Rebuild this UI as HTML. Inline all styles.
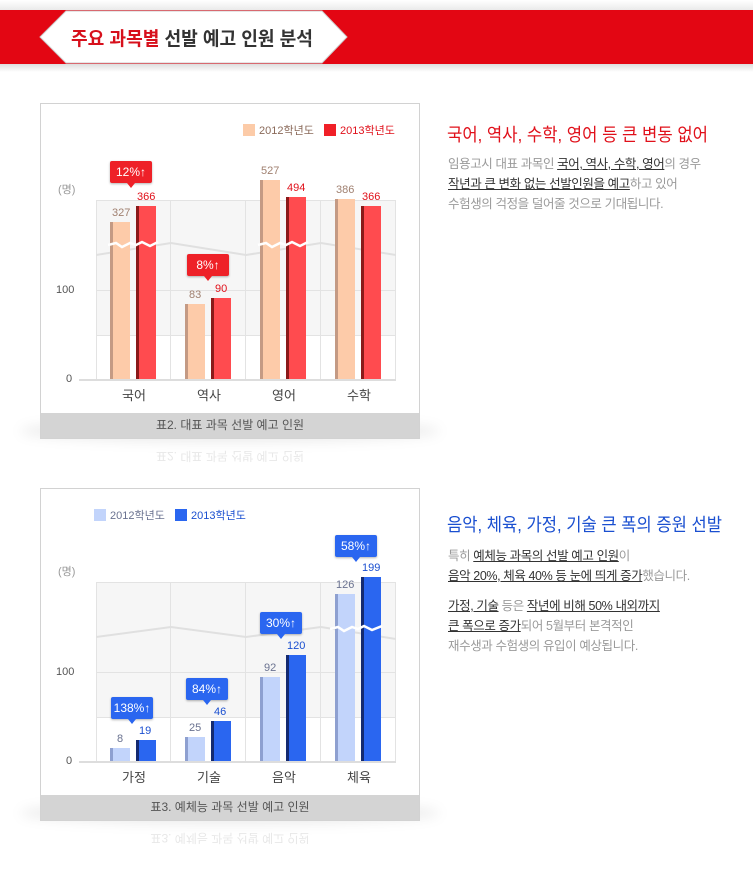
<!DOCTYPE html>
<html><head><meta charset="utf-8"><style>
*{margin:0;padding:0;box-sizing:border-box}
body{width:753px;height:880px;background:#fff;position:relative;overflow:hidden;font-family:"Liberation Sans","Noto Sans CJK KR",sans-serif}
.a{position:absolute}
.t{position:absolute;white-space:nowrap;font-size:11px;line-height:12px}
.box{position:absolute;border:1px solid #d2d2d2;background:#fff}
.cap{position:absolute;background:#d4d4d4;color:#555;font-size:12px;text-align:center;line-height:25px}
.refl{position:absolute;color:#ccc;font-size:12px;text-align:center;transform:scaleY(-1);opacity:.45}
.co{position:absolute;height:22px;border-radius:2px;color:#fff;font-size:12px;line-height:22px;text-align:center;box-shadow:0 1px 2px rgba(0,0,0,.3)}
.rc{background:#ee2128}.bc{background:#2a66f0}
.tri{position:absolute;width:0;height:0;border-left:4px solid transparent;border-right:4px solid transparent}
.p{font-size:12.5px;color:#9a9a9a;line-height:20px;white-space:nowrap;letter-spacing:-0.4px}
.p u{color:#333;text-decoration:underline}
</style></head><body>
<!-- header -->
<div class="a" style="left:0;top:0;width:753px;height:12px;background:linear-gradient(#fff,#e6e6e6)"></div>
<div class="a" style="left:0;top:10px;width:753px;height:54px;background:#e30613"></div>
<div class="a" style="left:0;top:64px;width:753px;height:8px;background:linear-gradient(#ddd,#fff)"></div>
<svg class="a" style="left:36px;top:10px" width="316" height="54"><polygon points="4,27 30,1 286,1 311,27 286,53 30,53" fill="#fff" stroke="#ccc"/></svg>
<svg class="a" style="left:0;top:0" width="753" height="880"><g font-family="Liberation Sans, Noto Sans CJK KR, sans-serif">
<text x="71" y="45" font-size="19" font-weight="bold" fill="#333" textLength="242" lengthAdjust="spacingAndGlyphs"><tspan fill="#d7101c">주요 과목별</tspan> 선발 예고 인원 분석</text>
<text x="447" y="141" font-size="18" fill="#e0101a" textLength="261" lengthAdjust="spacingAndGlyphs">국어, 역사, 수학, 영어 등 큰 변동 없어</text>
<text x="447" y="531" font-size="18" fill="#1a4fd0" textLength="275" lengthAdjust="spacingAndGlyphs">음악, 체육, 가정, 기술 큰 폭의 증원 선발</text>
</g></svg>

<!-- chart 1 -->
<div class="a" style="left:20px;top:420px;width:420px;height:22px;border-radius:50%;background:rgba(0,0,0,.08);filter:blur(6px)"></div>
<div class="box" style="left:40px;top:103px;width:380px;height:336px"></div>
<div class="cap" style="left:41px;top:413px;width:378px;height:25px">표2. 대표 과목 선발 예고 인원</div>
<div class="refl" style="left:41px;top:443px;width:378px;height:25px;line-height:25px">표2. 대표 과목 선발 예고 인원</div>
<div class="a" style="left:243px;top:124px;width:12px;height:12px;background:#fccba8"></div>
<div class="t" style="left:259px;top:125px;color:#8a6a5a">2012학년도</div>
<div class="a" style="left:324px;top:124px;width:12px;height:12px;background:#f02028"></div>
<div class="t" style="left:340px;top:125px;color:#e0101a">2013학년도</div>
<div class="t" style="left:58px;top:184px;color:#999">(명)</div>
<div class="a" style="left:96px;top:200px;width:300px;height:135px;background:#f6f6f6;border-top:1px solid #e3e3e3"></div>
<div class="a" style="left:96px;top:290px;width:300px;height:1px;background:#e3e3e3"></div>
<div class="a" style="left:96px;top:335px;width:300px;height:1px;background:#e3e3e3"></div>
<div class="a" style="left:96px;top:200px;width:1px;height:180px;background:#e3e3e3"></div>
<div class="a" style="left:170px;top:200px;width:1px;height:180px;background:#e3e3e3"></div>
<div class="a" style="left:245px;top:200px;width:1px;height:180px;background:#e3e3e3"></div>
<div class="a" style="left:320px;top:200px;width:1px;height:180px;background:#e3e3e3"></div>
<div class="a" style="left:395px;top:200px;width:1px;height:180px;background:#e3e3e3"></div>
<svg class="a" style="left:96px;top:240px" width="300" height="16"><polyline points="0,15 75,3 150,15 225,3 300,15" fill="none" stroke="#e0e0e0" stroke-width="2"/></svg>
<div class="a" style="left:79px;top:379px;width:317px;height:2px;background:#ddd"></div>
<div class="t" style="left:66px;top:373px;color:#555">0</div>
<div class="t" style="left:56px;top:284px;color:#555">100</div>
<div class="a" style="left:110px;top:222px;width:20px;height:157px;background:linear-gradient(90deg,#c49a84 0 3px,#fdcba9 3px)"></div>
<div class="a" style="left:136px;top:206px;width:20px;height:173px;background:linear-gradient(90deg,#8a1a1a 0 3px,#ff4b4f 3px)"></div>
<div class="a" style="left:185px;top:304px;width:20px;height:75px;background:linear-gradient(90deg,#c49a84 0 3px,#fdcba9 3px)"></div>
<div class="a" style="left:211px;top:298px;width:20px;height:81px;background:linear-gradient(90deg,#8a1a1a 0 3px,#ff4b4f 3px)"></div>
<div class="a" style="left:260px;top:180px;width:20px;height:199px;background:linear-gradient(90deg,#c49a84 0 3px,#fdcba9 3px)"></div>
<div class="a" style="left:286px;top:197px;width:20px;height:182px;background:linear-gradient(90deg,#8a1a1a 0 3px,#ff4b4f 3px)"></div>
<div class="a" style="left:335px;top:199px;width:20px;height:180px;background:linear-gradient(90deg,#c49a84 0 3px,#fdcba9 3px)"></div>
<div class="a" style="left:361px;top:206px;width:20px;height:173px;background:linear-gradient(90deg,#8a1a1a 0 3px,#ff4b4f 3px)"></div>
<svg class="a" style="left:108px;top:238px" width="280" height="14"><g fill="none" stroke="#fff" stroke-width="2.5"><polyline points="0,7 8,5 14,9 22,5 28,7 34,4 42,8 50,4"/><polyline points="150,7 158,5 164,9 172,5 178,7 184,4 192,8 200,4"/></g></svg>
<div class="t" style="left:112px;top:207px;color:#a08070">327</div>
<div class="t" style="left:137px;top:191px;color:#e0101a">366</div>
<div class="t" style="left:189px;top:289px;color:#a08070">83</div>
<div class="t" style="left:215px;top:283px;color:#e0101a">90</div>
<div class="t" style="left:261px;top:165px;color:#a08070">527</div>
<div class="t" style="left:287px;top:182px;color:#e0101a">494</div>
<div class="t" style="left:336px;top:184px;color:#a08070">386</div>
<div class="t" style="left:362px;top:191px;color:#e0101a">366</div>
<div class="co rc" style="left:110px;top:161px;width:42px">12%↑</div><div class="tri" style="left:127px;top:183px;border-top:5px solid #ee2128"></div>
<div class="co rc" style="left:187px;top:254px;width:42px">8%↑</div><div class="tri" style="left:204px;top:276px;border-top:5px solid #ee2128"></div>
<div class="t" style="left:122px;top:389px;font-size:13px;line-height:14px;color:#444">국어</div>
<div class="t" style="left:197px;top:389px;font-size:13px;line-height:14px;color:#444">역사</div>
<div class="t" style="left:272px;top:389px;font-size:13px;line-height:14px;color:#444">영어</div>
<div class="t" style="left:347px;top:389px;font-size:13px;line-height:14px;color:#444">수학</div>

<div class="a p" style="left:448px;top:154px">임용고시 대표 과목인 <u>국어, 역사, 수학, 영어</u>의 경우<br><u>작년과 큰 변화 없는 선발인원을 예고</u>하고 있어<br>수험생의 걱정을 덜어줄 것으로 기대됩니다.</div>

<!-- chart 2 -->
<div class="a" style="left:20px;top:802px;width:420px;height:22px;border-radius:50%;background:rgba(0,0,0,.08);filter:blur(6px)"></div>
<div class="box" style="left:40px;top:488px;width:380px;height:333px"></div>
<div class="cap" style="left:41px;top:795px;width:378px;height:25px">표3. 예체능 과목 선발 예고 인원</div>
<div class="refl" style="left:41px;top:825px;width:378px;height:25px;line-height:25px">표3. 예체능 과목 선발 예고 인원</div>
<div class="a" style="left:94px;top:509px;width:12px;height:12px;background:#c2d4fb"></div>
<div class="t" style="left:110px;top:510px;color:#6a7290">2012학년도</div>
<div class="a" style="left:175px;top:509px;width:12px;height:12px;background:#2a66f0"></div>
<div class="t" style="left:191px;top:510px;color:#1a4fd0">2013학년도</div>
<div class="t" style="left:58px;top:566px;color:#999">(명)</div>
<div class="a" style="left:96px;top:582px;width:300px;height:135px;background:#f6f6f6;border-top:1px solid #e3e3e3"></div>
<div class="a" style="left:96px;top:672px;width:300px;height:1px;background:#e3e3e3"></div>
<div class="a" style="left:96px;top:717px;width:300px;height:1px;background:#e3e3e3"></div>
<div class="a" style="left:96px;top:582px;width:1px;height:180px;background:#e3e3e3"></div>
<div class="a" style="left:170px;top:582px;width:1px;height:180px;background:#e3e3e3"></div>
<div class="a" style="left:245px;top:582px;width:1px;height:180px;background:#e3e3e3"></div>
<div class="a" style="left:320px;top:582px;width:1px;height:180px;background:#e3e3e3"></div>
<div class="a" style="left:395px;top:582px;width:1px;height:180px;background:#e3e3e3"></div>
<svg class="a" style="left:96px;top:624px" width="300" height="16"><polyline points="0,13 75,3 150,13 225,3 300,15" fill="none" stroke="#e0e0e0" stroke-width="2"/></svg>
<div class="a" style="left:79px;top:761px;width:317px;height:2px;background:#ddd"></div>
<div class="t" style="left:66px;top:755px;color:#555">0</div>
<div class="t" style="left:56px;top:666px;color:#555">100</div>
<div class="a" style="left:110px;top:748px;width:20px;height:13px;background:linear-gradient(90deg,#8ea0d0 0 3px,#c2d4fb 3px)"></div>
<div class="a" style="left:136px;top:740px;width:20px;height:21px;background:linear-gradient(90deg,#142a70 0 3px,#2a66f0 3px)"></div>
<div class="a" style="left:185px;top:737px;width:20px;height:24px;background:linear-gradient(90deg,#8ea0d0 0 3px,#c2d4fb 3px)"></div>
<div class="a" style="left:211px;top:721px;width:20px;height:40px;background:linear-gradient(90deg,#142a70 0 3px,#2a66f0 3px)"></div>
<div class="a" style="left:260px;top:677px;width:20px;height:84px;background:linear-gradient(90deg,#8ea0d0 0 3px,#c2d4fb 3px)"></div>
<div class="a" style="left:286px;top:655px;width:20px;height:106px;background:linear-gradient(90deg,#142a70 0 3px,#2a66f0 3px)"></div>
<div class="a" style="left:335px;top:594px;width:20px;height:167px;background:linear-gradient(90deg,#8ea0d0 0 3px,#c2d4fb 3px)"></div>
<div class="a" style="left:361px;top:577px;width:20px;height:184px;background:linear-gradient(90deg,#142a70 0 3px,#2a66f0 3px)"></div>
<svg class="a" style="left:330px;top:622px" width="60" height="14"><polyline points="0,7 8,5 14,9 22,5 28,7 34,4 42,8 52,4" fill="none" stroke="#fff" stroke-width="2.5"/></svg>
<div class="t" style="left:117px;top:733px;color:#6a7290">8</div>
<div class="t" style="left:139px;top:725px;color:#1a4fd0">19</div>
<div class="t" style="left:189px;top:722px;color:#6a7290">25</div>
<div class="t" style="left:214px;top:706px;color:#1a4fd0">46</div>
<div class="t" style="left:264px;top:662px;color:#6a7290">92</div>
<div class="t" style="left:287px;top:640px;color:#1a4fd0">120</div>
<div class="t" style="left:336px;top:579px;color:#6a7290">126</div>
<div class="t" style="left:362px;top:562px;color:#1a4fd0">199</div>
<div class="co bc" style="left:111px;top:697px;width:42px">138%↑</div><div class="tri" style="left:128px;top:719px;border-top:5px solid #2a66f0"></div>
<div class="co bc" style="left:186px;top:678px;width:42px">84%↑</div><div class="tri" style="left:203px;top:700px;border-top:5px solid #2a66f0"></div>
<div class="co bc" style="left:260px;top:612px;width:42px">30%↑</div><div class="tri" style="left:277px;top:634px;border-top:5px solid #2a66f0"></div>
<div class="co bc" style="left:335px;top:535px;width:42px">58%↑</div><div class="tri" style="left:352px;top:557px;border-top:5px solid #2a66f0"></div>
<div class="t" style="left:122px;top:771px;font-size:13px;line-height:14px;color:#444">가정</div>
<div class="t" style="left:197px;top:771px;font-size:13px;line-height:14px;color:#444">기술</div>
<div class="t" style="left:272px;top:771px;font-size:13px;line-height:14px;color:#444">음악</div>
<div class="t" style="left:347px;top:771px;font-size:13px;line-height:14px;color:#444">체육</div>

<div class="a p" style="left:448px;top:546px">특히 <u>예체능 과목의 선발 예고 인원</u>이<br><u>음악 20%, 체육 40% 등 눈에 띄게 증가</u>했습니다.</div>
<div class="a p" style="left:448px;top:596px"><u>가정, 기술</u> 등은 <u>작년에 비해 50% 내외까지</u><br><u>큰 폭으로 증가</u>되어 5월부터 본격적인<br>재수생과 수험생의 유입이 예상됩니다.</div>
</body></html>
